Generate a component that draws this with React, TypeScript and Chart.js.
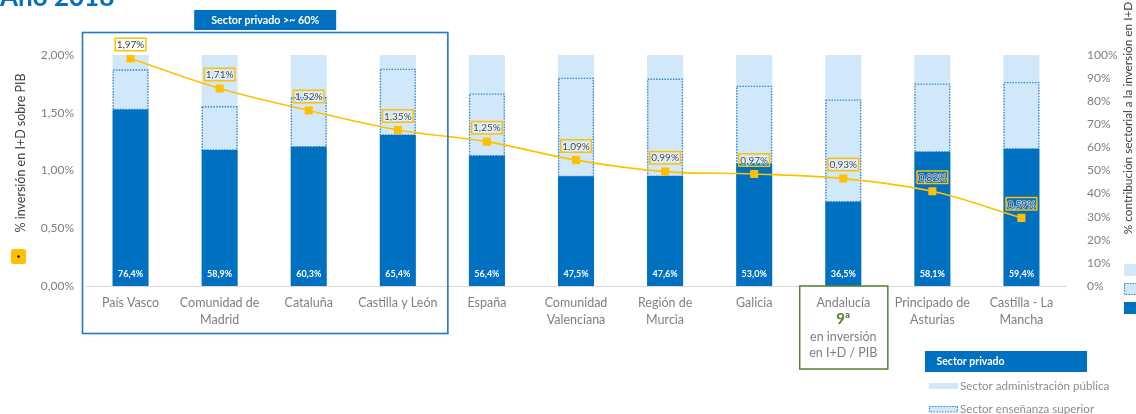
import React, { useEffect, useRef } from 'react';
import { Chart, registerables } from 'chart.js';

Chart.register(...registerables);

const categories: (string | string[])[] = [
  'País Vasco',
  ['Comunidad de', 'Madrid'],
  'Cataluña',
  'Castilla y León',
  'España',
  ['Comunidad', 'Valenciana'],
  ['Región de', 'Murcia'],
  'Galicia',
  'Andalucía',
  ['Principado de', 'Asturias'],
  ['Castilla - La', 'Mancha'],
];

const sectorPrivado = [76.4, 58.9, 60.3, 65.4, 56.4, 47.5, 47.6, 53.0, 36.5, 58.1, 59.4];
const sectorEnsenanza = [17.1, 18.7, 21.2, 28.4, 26.7, 42.4, 41.9, 33.4, 44.0, 29.3, 28.6];
const sectorAdministracion = [6.5, 22.4, 18.5, 6.2, 16.9, 10.1, 10.5, 13.6, 19.5, 12.6, 12.0];
const inversionPIB = [1.97, 1.71, 1.52, 1.35, 1.25, 1.09, 0.99, 0.97, 0.93, 0.82, 0.59];

const leftAxisMax = 2;
const leftAxisStep = 0.5;
const rightAxisMax = 100;
const rightAxisStep = 10;

const highlightIndex = 8; // Andalucía
const groupStart = 0;
const groupEnd = 3;

const DARK = '#0070C0';
const LIGHT = '#D0E8FA';
const DOTTED = '#2E7FCB';
const YELLOW = '#FFC000';
const GREEN = '#548235';
const GREY = '#7F7F7F';
const DARKTEXT = '#404040';
const FONT = 'Lato, "Open Sans", sans-serif';

const fmt1 = (v: number) => v.toFixed(1).replace('.', ',') + '%';
const fmt2 = (v: number) => v.toFixed(2).replace('.', ',') + '%';

const extras = {
  id: 'extras',
  afterDatasetDraw(chart: any, args: any) {
    if (args.index !== 1) return;
    const ctx = chart.ctx;
    const meta = chart.getDatasetMeta(1);
    ctx.save();
    ctx.setLineDash([1.4, 1.4]);
    ctx.strokeStyle = DOTTED;
    ctx.lineWidth = 1.3;
    meta.data.forEach((el: any) => {
      const p = el.getProps(['x', 'y', 'base', 'width'], true);
      ctx.strokeRect(p.x - p.width / 2 + 0.7, p.y, p.width - 1.4, p.base - p.y);
    });
    ctx.restore();
  },
  afterDatasetsDraw(chart: any) {
    const ctx = chart.ctx;
    // private sector labels
    const m0 = chart.getDatasetMeta(0);
    ctx.save();
    ctx.font = `bold 9px ${FONT}`;
    ctx.fillStyle = '#FFFFFF';
    ctx.textAlign = 'center';
    ctx.textBaseline = 'middle';
    m0.data.forEach((el: any, i: number) => {
      const p = el.getProps(['x', 'base'], true);
      ctx.fillText(fmt1(sectorPrivado[i]), p.x, p.base - 11.5);
    });
    ctx.restore();
    // line labels
    const m3 = chart.getDatasetMeta(3);
    ctx.save();
    ctx.font = `10px ${FONT}`;
    ctx.textAlign = 'center';
    ctx.textBaseline = 'middle';
    m3.data.forEach((el: any, i: number) => {
      const p = el.getProps(['x', 'y'], true);
      const t = fmt2(inversionPIB[i]);
      const w = ctx.measureText(t).width + 3;
      const h = 12.5;
      const cy = p.y - 14;
      ctx.strokeStyle = YELLOW;
      ctx.lineWidth = 1.5;
      ctx.strokeRect(p.x - w / 2, cy - h / 2, w, h);
      ctx.strokeStyle = 'rgba(255,255,255,0.7)';
      ctx.lineWidth = 1.6;
      ctx.lineJoin = 'round';
      ctx.strokeText(t, p.x, cy + 0.5);
      ctx.fillStyle = DARKTEXT;
      ctx.fillText(t, p.x, cy + 0.5);
    });
    ctx.restore();
  },
  afterDraw(chart: any) {
    const ctx = chart.ctx;
    const xs = chart.scales.x;
    const area = chart.chartArea;
    const catW = (area.right - area.left) / categories.length;
    ctx.save();

    // Title (cut at top)
    ctx.font = `bold 26px ${FONT}`;
    ctx.fillStyle = DARK;
    ctx.textAlign = 'left';
    ctx.textBaseline = 'alphabetic';
    ctx.fillText('Año 2018', 0, 6);

    // Group frame
    const fl = xs.getPixelForValue(groupStart) - catW / 2 - 3.5;
    const fr = xs.getPixelForValue(groupEnd) + catW / 2 + 5.5;
    ctx.strokeStyle = '#1F78C8';
    ctx.lineWidth = 1.6;
    ctx.strokeRect(fl, 32.5, fr - fl, 301);

    // Header box
    const hc = (fl + fr) / 2;
    ctx.fillStyle = DARK;
    ctx.fillRect(hc - 71, 10, 142, 20);
    ctx.font = `bold 10.7px ${FONT}`;
    ctx.fillStyle = '#FFFFFF';
    ctx.textAlign = 'center';
    ctx.textBaseline = 'middle';
    ctx.fillText('Sector privado >~ 60%', hc, 20.5);

    // Andalucía box
    const ax = xs.getPixelForValue(highlightIndex);
    ctx.strokeStyle = GREEN;
    ctx.lineWidth = 1.5;
    ctx.strokeRect(ax - catW / 2 + 1, area.bottom, catW - 1, 83);
    ctx.fillStyle = GREY;
    ctx.font = `12.5px ${FONT}`;
    ctx.fillText('Andalucía', ax, 303);
    ctx.fillStyle = GREEN;
    ctx.font = `bold 15px ${FONT}`;
    ctx.fillText('9ª', ax, 319.5);
    ctx.fillStyle = GREY;
    ctx.font = `12.5px ${FONT}`;
    ctx.fillText('en inversión', ax, 337);
    ctx.fillText('en I+D / PIB', ax, 353);

    // Axis titles
    ctx.fillStyle = DARKTEXT;
    ctx.font = `12.5px ${FONT}`;
    ctx.save();
    ctx.translate(21, 153);
    ctx.rotate(-Math.PI / 2);
    ctx.fillText('% inversión en I+D sobre PIB', 0, 0);
    ctx.restore();
    ctx.font = `11.8px ${FONT}`;
    ctx.save();
    ctx.translate(1128, 118);
    ctx.rotate(-Math.PI / 2);
    ctx.fillText('% contribución sectorial a la inversión en I+D', 0, 0);
    ctx.restore();

    // Left line swatch
    ctx.fillStyle = YELLOW;
    ctx.beginPath();
    (ctx as any).roundRect(11, 249, 15, 15, 2.5);
    ctx.fill();
    ctx.fillStyle = '#000000';
    ctx.beginPath();
    ctx.arc(18.5, 256.5, 1.2, 0, Math.PI * 2);
    ctx.fill();

    // Right swatches
    ctx.fillStyle = LIGHT;
    ctx.fillRect(1124, 264, 14, 12);
    ctx.fillStyle = LIGHT;
    ctx.fillRect(1124, 283, 14, 12);
    ctx.setLineDash([1.4, 1.4]);
    ctx.strokeStyle = DOTTED;
    ctx.lineWidth = 1.2;
    ctx.strokeRect(1124.5, 283.5, 14, 11);
    ctx.setLineDash([]);
    ctx.fillStyle = DARK;
    ctx.fillRect(1124, 302, 14, 12);

    // Bottom legend
    ctx.fillStyle = DARK;
    ctx.fillRect(925, 351, 162, 21);
    ctx.fillStyle = '#FFFFFF';
    ctx.font = `bold 10.5px ${FONT}`;
    ctx.textAlign = 'left';
    ctx.fillText('Sector privado', 936.5, 362);
    ctx.fillStyle = LIGHT;
    ctx.fillRect(929, 383, 29, 6);
    ctx.fillStyle = '#8C8C8C';
    ctx.font = `11.6px ${FONT}`;
    ctx.fillText('Sector administración pública', 960, 386);
    ctx.fillStyle = LIGHT;
    ctx.fillRect(929, 406, 29, 6);
    ctx.setLineDash([1.4, 1.4]);
    ctx.strokeStyle = DOTTED;
    ctx.lineWidth = 1.2;
    ctx.strokeRect(929.5, 406.5, 28, 5.5);
    ctx.setLineDash([]);
    ctx.fillStyle = '#8C8C8C';
    ctx.fillText('Sector enseñanza superior', 960, 409.5);

    ctx.restore();
  },
};

export default function App() {
  const ref = useRef<HTMLCanvasElement | null>(null);

  useEffect(() => {
    if (!ref.current) return;
    const chart = new Chart(ref.current, {
      type: 'bar',
      data: {
        labels: categories as any,
        datasets: [
          {
            label: 'Sector privado',
            data: sectorPrivado,
            backgroundColor: DARK,
            yAxisID: 'y1',
            stack: 's',
            order: 1,
            categoryPercentage: 1,
            barPercentage: 0.405,
            borderWidth: 0,
          } as any,
          {
            label: 'Sector enseñanza superior',
            data: sectorEnsenanza,
            backgroundColor: LIGHT,
            yAxisID: 'y1',
            stack: 's',
            order: 1,
            categoryPercentage: 1,
            barPercentage: 0.405,
            borderWidth: 0,
          },
          {
            label: 'Sector administración pública',
            data: sectorAdministracion,
            backgroundColor: LIGHT,
            yAxisID: 'y1',
            stack: 's',
            order: 1,
            categoryPercentage: 1,
            barPercentage: 0.405,
            borderWidth: 0,
          },
          {
            type: 'line',
            label: '% inversión en I+D sobre PIB',
            data: inversionPIB,
            yAxisID: 'y',
            borderColor: YELLOW,
            borderWidth: 1.6,
            backgroundColor: YELLOW,
            pointStyle: 'rect',
            pointRadius: 5.7,
            pointBorderWidth: 0,
            pointBackgroundColor: YELLOW,
            tension: 0.35,
            order: 0,
            fill: false,
          } as any,
        ],
      },
      options: {
        animation: false,
        responsive: false,
        maintainAspectRatio: false,
        layout: { padding: { top: 55, left: 0, right: 0, bottom: 0 } },
        plugins: { legend: { display: false }, tooltip: { enabled: false } },
        scales: {
          x: {
            stacked: true,
            offset: true,
            grid: { display: false, drawTicks: false },
            border: { display: true, color: '#D9D9D9', width: 1 },
            ticks: {
              padding: 8.7,
              autoSkip: false,
              maxRotation: 0,
              color: GREY,
              font: { family: FONT, size: 12.5, lineHeight: 1.33 },
              callback: (_v: any, i: number) => (i === highlightIndex ? '' : categories[i]),
            },
            afterFit: (s: any) => {
              s.height = 128;
            },
          },
          y: {
            position: 'left',
            min: 0,
            max: leftAxisMax,
            grid: { display: false, drawTicks: false },
            border: { display: false },
            ticks: {
              stepSize: leftAxisStep,
              padding: 12,
              color: GREY,
              font: { family: FONT, size: 12 },
              callback: (v: any) => fmt2(Number(v)),
            },
            afterFit: (s: any) => {
              s.width = 86;
            },
          },
          y1: {
            position: 'right',
            stacked: true,
            min: 0,
            max: rightAxisMax,
            grid: { display: false, drawTicks: false },
            border: { display: false },
            ticks: {
              stepSize: rightAxisStep,
              padding: 21,
              color: GREY,
              font: { family: FONT, size: 12 },
              callback: (v: any) => `${v}%`,
            },
            afterFit: (s: any) => {
              s.width = 70;
            },
          },
        },
      } as any,
      plugins: [extras],
    });
    return () => chart.destroy();
  }, []);

  return (
    <div style={{ position: 'absolute', left: 0, top: 0, width: 1136, height: 414, background: '#FFFFFF' }}>
      <canvas ref={ref} width={1136} height={414} style={{ width: 1136, height: 414, display: 'block' }} />
    </div>
  );
}
